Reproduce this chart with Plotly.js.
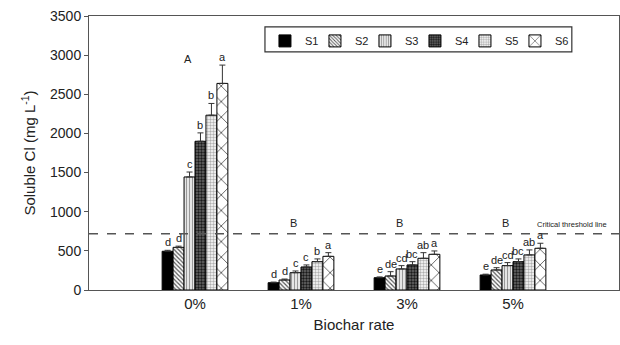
<!DOCTYPE html>
<html><head><meta charset="utf-8">
<script src="https://cdn.plot.ly/plotly-3.0.1.min.js"></script>
<style>html,body{margin:0;padding:0;background:#fff}#chart{width:620px;height:345px}
#chart .legend .scrollbox{clip-path:none !important}</style>
</head><body><div id="chart"></div>
<script>
const categories = ['0%', '1%', '3%', '5%'];
const seriesNames = ['S1', 'S2', 'S3', 'S4', 'S5', 'S6'];
const S1 = [495, 93, 157, 192];
const S2 = [545, 128, 179, 256];
const S3 = [1444, 221, 269, 311];
const S4 = [1900, 294, 320, 362];
const S5 = [2233, 362, 405, 448];
const S6 = [2639, 430, 456, 533];
const errS1 = [12, 8, 10, 10];
const errS2 = [15, 12, 55, 29];
const errS3 = [63, 22, 42, 39];
const errS4 = [107, 26, 42, 35];
const errS5 = [150, 35, 72, 64];
const errS6 = [234, 47, 43, 64];
const lettersS1 = ['d', 'd', 'e', 'e'];
const lettersS2 = ['d', 'd', 'de', 'de'];
const lettersS3 = ['c', 'c', 'cd', 'cd'];
const lettersS4 = ['b', 'c', 'bc', 'bc'];
const lettersS5 = ['b', 'b', 'ab', 'ab'];
const lettersS6 = ['a', 'a', 'a', 'a'];
const groupLetters = ['A', 'B', 'B', 'B'];
const groupLetterY = [2950, 860, 860, 860];
const threshold = 720;
const thresholdLabel = 'Critical threshold line';

const values = [S1, S2, S3, S4, S5, S6];
const errs = [errS1, errS2, errS3, errS4, errS5, errS6];
const letters = [lettersS1, lettersS2, lettersS3, lettersS4, lettersS5, lettersS6];

const patterns = [
  null,
  {shape: '\\', bgcolor: '#ffffff', fgcolor: '#555555', size: 3, solidity: 0.4},
  {shape: '|', bgcolor: '#eeeeee', fgcolor: '#999999', size: 3, solidity: 0.4},
  {shape: '.', bgcolor: '#6a6a6a', fgcolor: '#1a1a1a', size: 3, solidity: 0.5},
  {shape: '.', bgcolor: '#ffffff', fgcolor: '#b0b0b0', size: 3, solidity: 0.5},
  {shape: 'x', bgcolor: '#ffffff', fgcolor: '#222222', size: 11, solidity: 0.12}
];

const xs = categories.map((c, i) => i);
const bargap = 0.38;
const n = seriesNames.length;
const bw = (1 - bargap) / n;

const traces = seriesNames.map((name, k) => {
  const m = {color: k === 0 ? '#000000' : '#ffffff', line: {color: '#000000', width: 1}};
  if (patterns[k]) m.pattern = patterns[k];
  return {
    type: 'bar', name: name, x: xs, y: values[k],
    marker: m,
    error_y: {type: 'data', symmetric: false, array: errs[k], arrayminus: errs[k].map(() => 0),
              color: '#333333', thickness: 1, width: 3}
  };
});

const annotations = [];
seriesNames.forEach((name, k) => {
  xs.forEach((g, i) => {
    annotations.push({
      x: g - (1 - bargap) / 2 + (k + 0.5) * bw, y: values[k][i] + errs[k][i],
      xref: 'x', yref: 'y', text: letters[k][i], showarrow: false,
      yanchor: 'bottom', yshift: 0, font: {size: 11, color: '#222'}
    });
  });
});
xs.forEach((g, i) => {
  annotations.push({x: g - 0.07, y: groupLetterY[i], xref: 'x', yref: 'y', text: groupLetters[i],
    showarrow: false, font: {size: 11, color: '#222'}});
});
annotations.push({x: 0.982, y: threshold, xref: 'paper', yref: 'y', text: thresholdLabel,
  showarrow: false, xanchor: 'right', yanchor: 'bottom', yshift: 3, font: {size: 7.5, color: '#222'}});

const layout = {
  width: 620, height: 345,
  margin: {l: 89, r: 1, t: 16, b: 55},
  paper_bgcolor: '#fff', plot_bgcolor: '#fff',
  font: {family: 'Liberation Sans, Arial, sans-serif', color: '#222'},
  barmode: 'group', bargap: bargap, bargroupgap: 0,
  showlegend: true,
  legend: {orientation: 'h', x: 0.332, xanchor: 'left', y: 0.962, yanchor: 'top',
    borderwidth: 0, bgcolor: 'rgba(0,0,0,0)', font: {size: 11},
    entrywidth: 5},
  xaxis: {range: [-1, 4], tickvals: xs, ticktext: categories, showgrid: false, zeroline: false,
    showline: true, linecolor: '#555', mirror: true, ticks: '', tickfont: {size: 15},
    title: {text: 'Biochar rate', font: {size: 15}, standoff: 8}},
  yaxis: {range: [0, 3500], dtick: 500, showgrid: false, zeroline: false,
    showline: true, linecolor: '#555', mirror: true, ticks: 'outside', ticklen: 4, tickcolor: '#555',
    tickfont: {size: 14},
    title: {text: 'Soluble Cl (mg L<sup>-1</sup>)', font: {size: 15}, standoff: 10}},
  shapes: [
    {type: 'line', xref: 'paper', x0: 0, x1: 1, yref: 'y', y0: threshold, y1: threshold,
     line: {color: '#555', width: 1.5, dash: 'dash'}},
    {type: 'rect', xref: 'paper', yref: 'paper', x0: 0.332, x1: 0.911, y0: 0.869, y1: 0.960,
     fillcolor: '#fff', line: {color: '#333', width: 1.2}, layer: 'above'}
  ],
  annotations: annotations
};
Plotly.newPlot('chart', traces, layout, {displayModeBar: false});
</script>
</body></html>
